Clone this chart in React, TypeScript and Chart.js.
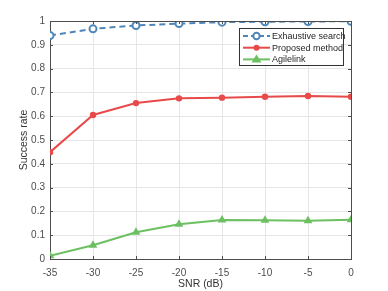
import React, { useEffect, useRef } from "react";
import { Chart, registerables } from "chart.js";

Chart.register(...registerables);

const snr = [-35, -30, -25, -20, -15, -10, -5, 0];
const exhaustive = [0.939, 0.967, 0.981, 0.989, 0.995, 0.997, 0.998, 0.999];
const proposed = [0.449, 0.605, 0.655, 0.675, 0.678, 0.682, 0.685, 0.682];
const agilelink = [0.014, 0.058, 0.112, 0.146, 0.164, 0.163, 0.161, 0.165];
const seriesNames = ["Exhaustive search", "Proposed method", "Agilelink"];

const BLUE = "#4f86b9";
const RED = "#e84a4a";
const GREEN = "#6cc062";
const FONT = "'Liberation Sans', Arial, sans-serif";

const boxPlugin = {
  id: "boxPlugin",
  afterDatasetsDraw(chart: any) {
    const { ctx, chartArea } = chart;
    const { left, right, top, bottom } = chartArea;
    ctx.save();
    ctx.strokeStyle = "#4d4d4d";
    ctx.lineWidth = 1;
    ctx.beginPath();
    ctx.moveTo(left, top + 0.5);
    ctx.lineTo(right + 0.5, top + 0.5);
    ctx.lineTo(right + 0.5, bottom);
    ctx.stroke();
    const xs = chart.scales.x;
    const ys = chart.scales.y;
    ctx.beginPath();
    xs.ticks.forEach((t: any) => {
      const px = Math.round(xs.getPixelForValue(t.value)) + 0.5;
      ctx.moveTo(px, top);
      ctx.lineTo(px, top + 3);
      ctx.moveTo(px, bottom);
      ctx.lineTo(px, bottom - 3);
    });
    ys.ticks.forEach((t: any) => {
      const py = Math.round(ys.getPixelForValue(t.value)) + 0.5;
      ctx.moveTo(right, py);
      ctx.lineTo(right - 3, py);
      ctx.moveTo(left, py);
      ctx.lineTo(left + 3, py);
    });
    ctx.stroke();

    // legend
    const lx = 239, ly = 28, lw = 104, lh = 37;
    ctx.fillStyle = "#ffffff";
    ctx.fillRect(lx, ly, lw, lh);
    ctx.strokeStyle = "#333333";
    ctx.strokeRect(lx + 0.5, ly + 0.5, lw, lh);
    const colors = [BLUE, RED, GREEN];
    ctx.font = `9px ${FONT}`;
    ctx.textBaseline = "middle";
    for (let i = 0; i < 3; i++) {
      const cy = ly + 8 + i * 11.7;
      const x0 = lx + 4, x1 = lx + 31;
      ctx.strokeStyle = colors[i];
      ctx.lineWidth = 2;
      ctx.setLineDash(i === 0 ? [5, 3] : []);
      ctx.beginPath();
      ctx.moveTo(x0, cy);
      ctx.lineTo(x1, cy);
      ctx.stroke();
      ctx.setLineDash([]);
      const mx = (x0 + x1) / 2;
      if (i === 0) {
        ctx.fillStyle = "#ffffff";
        ctx.beginPath();
        ctx.arc(mx, cy, 3.2, 0, Math.PI * 2);
        ctx.fill();
        ctx.stroke();
      } else if (i === 1) {
        ctx.fillStyle = RED;
        ctx.beginPath();
        ctx.arc(mx, cy, 3, 0, Math.PI * 2);
        ctx.fill();
      } else {
        ctx.fillStyle = GREEN;
        ctx.beginPath();
        ctx.moveTo(mx, cy - 5);
        ctx.lineTo(mx + 5, cy + 3);
        ctx.lineTo(mx - 5, cy + 3);
        ctx.closePath();
        ctx.fill();
      }
      ctx.fillStyle = "#262626";
      ctx.fillText(seriesNames[i], x1 + 2, cy + 0.5);
    }
    ctx.restore();
  },
};

export default function App() {
  const ref = useRef<HTMLCanvasElement | null>(null);
  useEffect(() => {
    if (!ref.current) return;
    const chart = new Chart(ref.current, {
      type: "line",
      data: {
        datasets: [
          {
            label: seriesNames[0],
            data: snr.map((x, i) => ({ x, y: exhaustive[i] })),
            borderColor: BLUE,
            backgroundColor: "#ffffff",
            borderWidth: 2,
            borderDash: [6, 4],
            pointStyle: "circle",
            pointRadius: 3.5,
            pointBorderWidth: 2,
            pointBorderColor: BLUE,
            pointBackgroundColor: "#ffffff",
            tension: 0,
          },
          {
            label: seriesNames[1],
            data: snr.map((x, i) => ({ x, y: proposed[i] })),
            borderColor: RED,
            backgroundColor: RED,
            borderWidth: 2,
            pointStyle: "circle",
            pointRadius: 3.2,
            pointBorderWidth: 0,
            pointBackgroundColor: RED,
            tension: 0,
          },
          {
            label: seriesNames[2],
            data: snr.map((x, i) => ({ x, y: agilelink[i] })),
            borderColor: GREEN,
            backgroundColor: GREEN,
            borderWidth: 2,
            pointStyle: "triangle",
            pointRadius: 5,
            pointBorderWidth: 0,
            pointBackgroundColor: GREEN,
            tension: 0,
          },
        ],
      },
      options: {
        animation: false,
        responsive: false,
        maintainAspectRatio: false,
        layout: { padding: { top: 21, right: 37, left: 0, bottom: 0 } },
        plugins: { legend: { display: false }, tooltip: { enabled: false } },
        scales: {
          x: {
            type: "linear",
            min: -35,
            max: 0,
            afterFit: (s: any) => { s.height = 32; },
            ticks: {
              stepSize: 5,
              color: "#4d4d4d",
              font: { family: FONT, size: 10 },
              padding: 4,
            },
            grid: { color: "#e6e6e6", tickLength: 4, drawTicks: true, tickColor: "rgba(0,0,0,0)" },
            border: { color: "#4d4d4d" },
            title: {
              display: true,
              text: "SNR (dB)",
              color: "#333333",
              font: { family: FONT, size: 10.5 },
              padding: { top: 1, bottom: 1 },
            },
          },
          y: {
            min: 0,
            max: 1,
            afterFit: (s: any) => { s.width = 50; },
            ticks: {
              stepSize: 0.1,
              color: "#4d4d4d",
              font: { family: FONT, size: 10 },
              padding: 5,
              callback: (v: any) => String(Math.round(Number(v) * 10) / 10),
            },
            grid: { color: "#e6e6e6", drawTicks: false },
            border: { color: "#4d4d4d" },
            title: {
              display: true,
              text: "Success rate",
              color: "#333333",
              font: { family: FONT, size: 10.5 },
              padding: { top: 18, bottom: 0 },
            },
          },
        },
      },
      plugins: [boxPlugin],
    });
    return () => chart.destroy();
  }, []);
  return (
    <div style={{ position: "fixed", left: 0, top: 0, width: 388, height: 291, background: "#fff" }}>
      <canvas ref={ref} width={388} height={291} style={{ width: 388, height: 291 }} />
    </div>
  );
}
